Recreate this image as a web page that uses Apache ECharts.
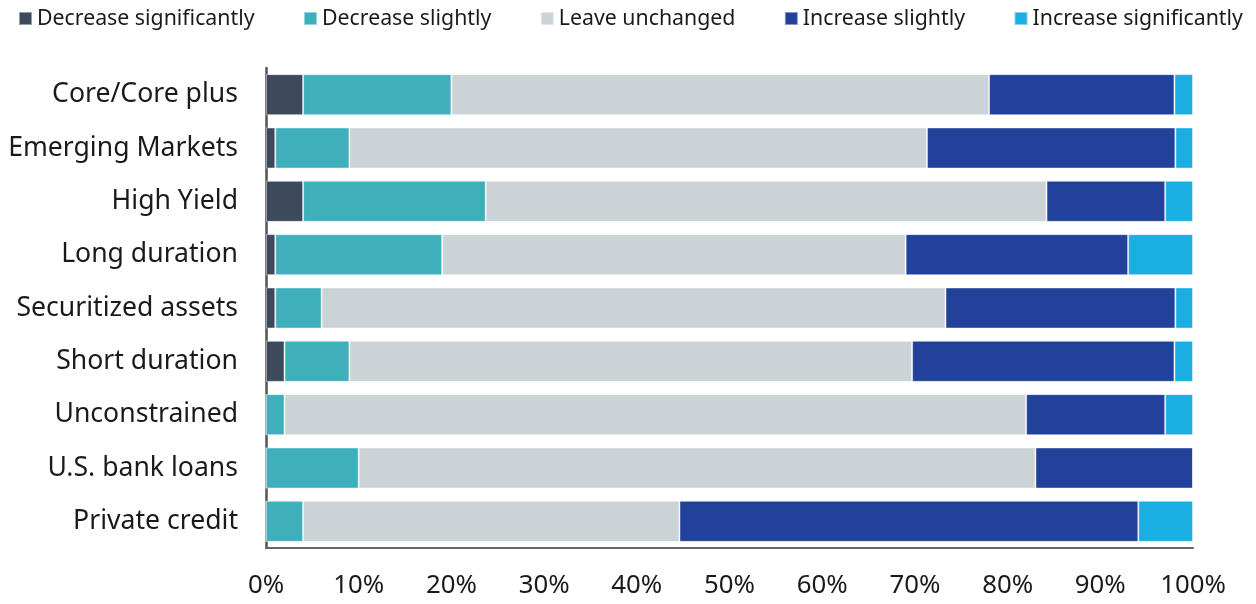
<!DOCTYPE html>
<html>
<head>
<meta charset="utf-8">
<script src="https://cdn.jsdelivr.net/npm/echarts@6/dist/echarts.min.js"></script>
<style>html,body{margin:0;padding:0;background:#fff}#c{width:1256px;height:604px}</style>
</head>
<body>
<div id="c"></div>
<script>
const categories = ["Core/Core plus","Emerging Markets","High Yield","Long duration","Securitized assets","Short duration","Unconstrained","U.S. bank loans","Private credit"];
const seriesNames = ["Decrease significantly","Decrease slightly","Leave unchanged","Increase slightly","Increase significantly"];
const decreaseSignificantly = [4, 1, 4, 1, 1, 2, 0, 0, 0];
const decreaseSlightly = [16, 8, 19.7, 18, 5, 7, 2, 10, 4];
const leaveUnchanged = [58, 62.3, 60.5, 50, 67.3, 60.7, 80, 73, 40.6];
const increaseSlightly = [20, 26.8, 12.8, 24, 24.8, 28.3, 15, 17, 49.5];
const increaseSignificantly = [2, 1.9, 3, 7, 1.9, 2, 3, 0, 5.9];
const xTicks = [0, 10, 20, 30, 40, 50, 60, 70, 80, 90, 100];

const colors = ["#3d4a5c","#40afbc","#cbd3d6","#22419a","#1aaee3"];
const allData = [decreaseSignificantly, decreaseSlightly, leaveUnchanged, increaseSlightly, increaseSignificantly];
const FONT = "Noto Sans";

const chart = echarts.init(document.getElementById('c'), null, {renderer:'canvas'});
chart.setOption({
  animation: false,
  textStyle: {fontFamily: FONT},
  legend: {
    top: 8, left: 18, width: 1250, padding: 0,
    itemWidth: 13, itemHeight: 13, itemGap: 48.5,
    icon: 'rect',
    textStyle: {fontFamily: FONT, fontSize: 21.3, color: '#1a1a1a'},
    data: seriesNames
  },
  grid: {left: 266, right: 63, top: 68, bottom: 56, containLabel: false},
  xAxis: {
    type: 'value', min: 0, max: 100, interval: 10,
    axisLine: {show: true, lineStyle: {color: '#666', width: 2}},
    axisTick: {show: false},
    splitLine: {show: false},
    axisLabel: {fontFamily: FONT, fontSize: 25.8, color: '#1a1a1a', margin: 25, formatter: v => v + '%'}
  },
  yAxis: {
    type: 'category', data: categories, inverse: true,
    axisLine: {show: true, lineStyle: {color: '#555', width: 2.5}},
    axisTick: {show: false},
    axisLabel: {fontFamily: FONT, fontSize: 26.6, color: '#1a1a1a', margin: 28}
  },
  series: seriesNames.map((n, i) => ({
    name: n, type: 'bar', stack: 'total', barWidth: '77%',
    data: allData[i],
    itemStyle: {color: colors[i], borderColor: 'rgba(255,255,255,0.45)', borderWidth: 1}
  }))
});
</script>
</body>
</html>
